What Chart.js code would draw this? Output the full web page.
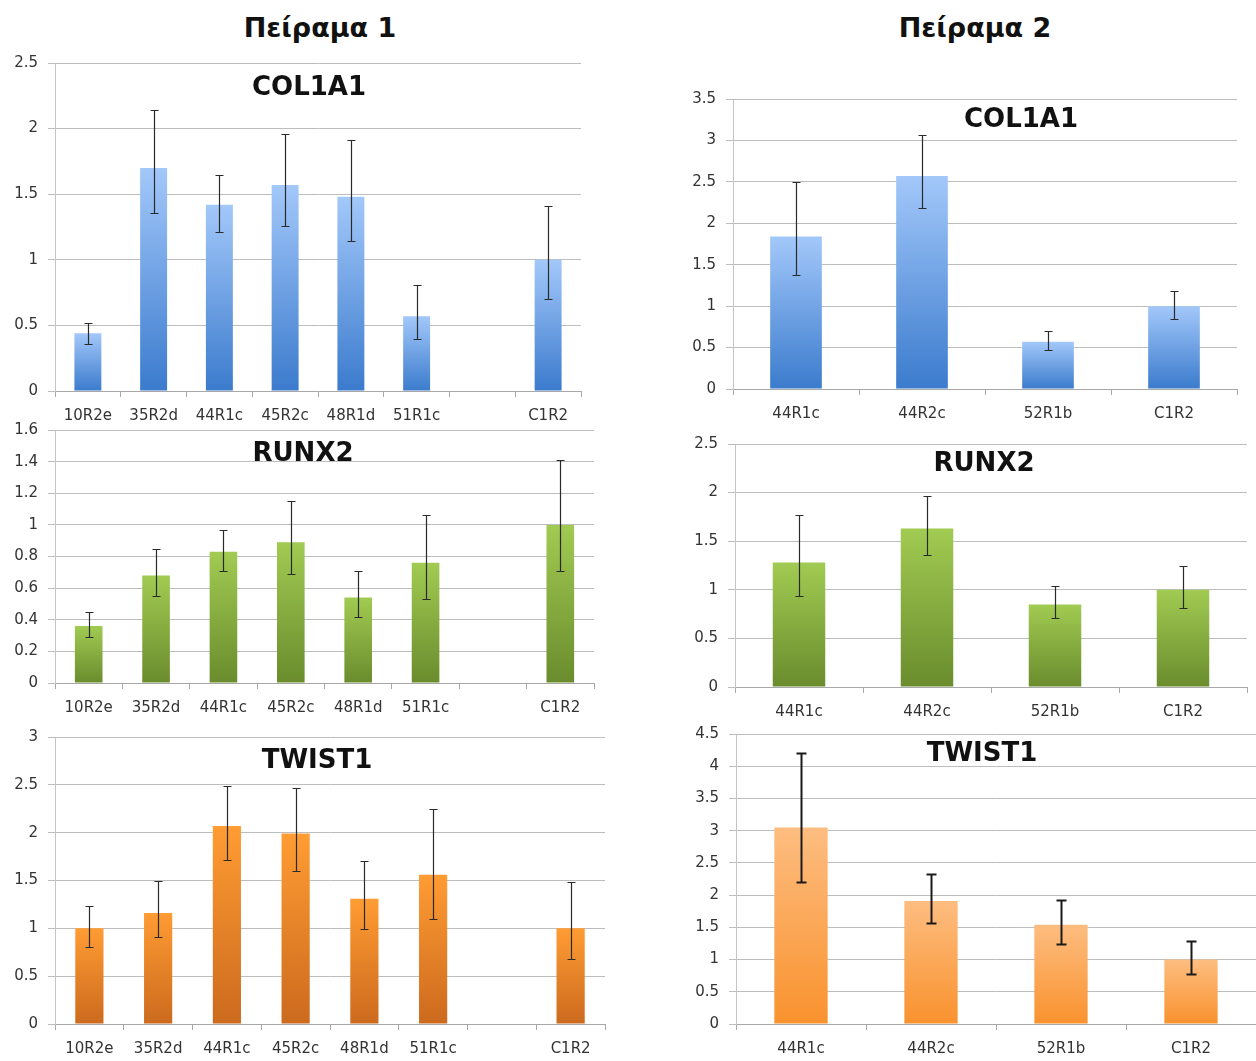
<!DOCTYPE html>
<html>
<head>
<meta charset="utf-8">
<script src="https://cdn.jsdelivr.net/npm/chart.js@4.4.1/dist/chart.umd.min.js"></script>
<style>
  html, body { margin: 0; padding: 0; background: #ffffff; overflow: hidden; }
  body { width: 1256px; height: 1061px; position: relative; }
  .box { position: absolute; }
  .head, .gene {
    position: absolute; transform: translate(-50%, -50%);
    font-family: "DejaVu Sans", sans-serif; font-weight: bold; color: #111;
    white-space: nowrap; pointer-events: none;
  }
  .head { font-size: 27px; }
  .gene { font-size: 26px; }
</style>
</head>
<body>
<div class="head" style="left:320px; top:27px;">Πείραμα 1</div>
<div class="head" style="left:975px; top:27px;">Πείραμα 2</div>

<script>
// Sample labels
const exp1Labels = ['10R2e', '35R2d', '44R1c', '45R2c', '48R1d', '51R1c', '', 'C1R2'];
const exp2Labels = ['44R1c', '44R2c', '52R1b', 'C1R2'];

// Experiment 1 — relative expression with error bar ends
const exp1Col1a1     = [0.44, 1.70, 1.42, 1.57, 1.48, 0.57, null, 1.00];
const exp1Col1a1High = [0.52, 2.14, 1.65, 1.96, 1.91, 0.81, null, 1.41];
const exp1Col1a1Low  = [0.36, 1.36, 1.21, 1.26, 1.14, 0.40, null, 0.70];

const exp1Runx2     = [0.36, 0.68, 0.83, 0.89, 0.54, 0.76, null, 1.00];
const exp1Runx2High = [0.45, 0.85, 0.97, 1.15, 0.71, 1.06, null, 1.41];
const exp1Runx2Low  = [0.29, 0.55, 0.71, 0.69, 0.42, 0.53, null, 0.71];

const exp1Twist1     = [1.00, 1.16, 2.07, 1.99, 1.31, 1.56, null, 1.00];
const exp1Twist1High = [1.23, 1.49, 2.49, 2.47, 1.70, 2.25, null, 1.48];
const exp1Twist1Low  = [0.81, 0.91, 1.71, 1.60, 0.99, 1.10, null, 0.68];

// Experiment 2
const exp2Col1a1     = [1.84, 2.57, 0.57, 1.00];
const exp2Col1a1High = [2.50, 3.06, 0.70, 1.18];
const exp2Col1a1Low  = [1.38, 2.18, 0.47, 0.85];

const exp2Runx2     = [1.28, 1.63, 0.85, 1.00];
const exp2Runx2High = [1.77, 1.97, 1.04, 1.24];
const exp2Runx2Low  = [0.94, 1.36, 0.71, 0.81];

const exp2Twist1     = [3.05, 1.91, 1.54, 1.00];
const exp2Twist1High = [4.21, 2.33, 1.93, 1.29];
const exp2Twist1Low  = [2.21, 1.57, 1.24, 0.77];

// Y axis ranges (max, step)
const yCol1a1Exp1 = [2.5, 0.5];
const yRunx2Exp1  = [1.6, 0.2];
const yTwist1Exp1 = [3, 0.5];
const yCol1a1Exp2 = [3.5, 0.5];
const yRunx2Exp2  = [2.5, 0.5];
const yTwist1Exp2 = [4.5, 0.5];

// Bar gradients (top, bottom)
const BLUE     = ['#a3c8fa', '#3b7bcd'];
const GREEN    = ['#a1cb52', '#6a8c2d'];
const ORANGE   = ['#ff9c33', '#cc6a1e'];
const ORANGE_L = ['#fdbd80', '#f9922e'];

const Y_W = 55;   // y-axis band width
const X_H = 40;   // x-axis band height
const PAD_T = 16; // room above the plot for the top tick label

// Draws vertical error bars with caps from each dataset's errHigh / errLow
const errorBars = {
  id: 'errorBars',
  afterDatasetsDraw(chart, args, opts) {
    const ds = chart.data.datasets[0];
    const meta = chart.getDatasetMeta(0);
    const y = chart.scales.y;
    const ctx = chart.ctx;
    ctx.save();
    ctx.strokeStyle = opts.color;
    ctx.lineWidth = opts.width;
    meta.data.forEach((bar, i) => {
      const hi = ds.errHigh[i], lo = ds.errLow[i];
      if (hi == null || lo == null || !isFinite(bar.x)) return;
      const x = Math.round(bar.x) + 0.5;
      const yH = Math.round(y.getPixelForValue(hi)) + 0.5;
      const yL = Math.round(y.getPixelForValue(lo)) + 0.5;
      ctx.beginPath();
      ctx.moveTo(x, yH); ctx.lineTo(x, yL);
      ctx.moveTo(x - opts.cap, yH); ctx.lineTo(x + opts.cap, yH);
      ctx.moveTo(x - opts.cap, yL); ctx.lineTo(x + opts.cap, yL);
      ctx.stroke();
    });
    ctx.restore();
  }
};

function gradientFill(colors) {
  return (c) => {
    const chart = c.chart;
    if (!chart.chartArea || c.type !== 'data' || c.raw == null) return colors[0];
    const y = chart.scales.y;
    const top = y.getPixelForValue(c.raw);
    const base = y.getPixelForValue(0);
    const g = chart.ctx.createLinearGradient(0, top, 0, base);
    g.addColorStop(0, colors[0]);
    g.addColorStop(1, colors[1]);
    return g;
  };
}

function panel(cfg) {
  const { plot, padR, labels, values, high, low, yRange, colors, title, titlePos, err } = cfg;
  const div = document.createElement('div');
  div.className = 'box';
  const w = plot.right - plot.left + Y_W + padR;
  const h = plot.bottom - plot.top + PAD_T + X_H;
  div.style.left = (plot.left - Y_W) + 'px';
  div.style.top = (plot.top - PAD_T) + 'px';
  div.style.width = w + 'px';
  div.style.height = h + 'px';
  const canvas = document.createElement('canvas');
  canvas.width = w; canvas.height = h;
  canvas.style.width = w + 'px'; canvas.style.height = h + 'px';
  div.appendChild(canvas);
  document.body.appendChild(div);

  const t = document.createElement('div');
  t.className = 'gene';
  t.textContent = title;
  t.style.left = titlePos[0] + 'px';
  t.style.top = titlePos[1] + 'px';
  document.body.appendChild(t);

  const tickFont = { family: 'DejaVu Sans', size: 15 };
  new Chart(canvas, {
    type: 'bar',
    data: {
      labels: labels,
      datasets: [{
        data: values,
        errHigh: high,
        errLow: low,
        backgroundColor: gradientFill(colors),
        borderWidth: 0,
        categoryPercentage: 1.0,
        barPercentage: 0.41
      }]
    },
    options: {
      responsive: false,
      animation: false,
      devicePixelRatio: 1,
      layout: { padding: { top: PAD_T, right: padR, left: 0, bottom: 0 } },
      plugins: {
        legend: { display: false },
        tooltip: { enabled: false },
        errorBars: err
      },
      scales: {
        x: {
          grid: {
            display: true, drawOnChartArea: false, offset: true,
            tickLength: 6, color: '#a8a8a8', lineWidth: 1
          },
          border: { display: true, color: '#a8a8a8', width: 1 },
          ticks: { font: tickFont, color: '#333333', padding: 10, maxRotation: 0, autoSkip: false },
          afterFit: (s) => { s.height = X_H; }
        },
        y: {
          min: 0, max: yRange[0],
          grid: { color: '#bdbdbd', lineWidth: 1, tickLength: 7, drawTicks: true },
          border: { display: true, color: '#c4c4c4', width: 1 },
          ticks: {
            stepSize: yRange[1], font: tickFont, color: '#333333', padding: 10,
            callback: (v) => String(Math.round(v * 10) / 10)
          },
          afterFit: (s) => { s.width = Y_W; }
        }
      }
    },
    plugins: [errorBars]
  });
}

const errThin = { color: '#2a2a2a', width: 1.2, cap: 4 };
const errBold = { color: '#1a1a1a', width: 2, cap: 5 };

panel({ plot: { left: 55, right: 581, top: 60, bottom: 391 }, padR: 10,
  labels: exp1Labels, values: exp1Col1a1, high: exp1Col1a1High, low: exp1Col1a1Low,
  yRange: yCol1a1Exp1, colors: BLUE, title: 'COL1A1', titlePos: [309, 86], err: errThin });

panel({ plot: { left: 55, right: 594, top: 427, bottom: 683 }, padR: 6,
  labels: exp1Labels, values: exp1Runx2, high: exp1Runx2High, low: exp1Runx2Low,
  yRange: yRunx2Exp1, colors: GREEN, title: 'RUNX2', titlePos: [303, 452], err: errThin });

panel({ plot: { left: 55, right: 605, top: 734, bottom: 1024 }, padR: 6,
  labels: exp1Labels, values: exp1Twist1, high: exp1Twist1High, low: exp1Twist1Low,
  yRange: yTwist1Exp1, colors: ORANGE, title: 'TWIST1', titlePos: [317, 759], err: errThin });

panel({ plot: { left: 733, right: 1237, top: 96, bottom: 389 }, padR: 10,
  labels: exp2Labels, values: exp2Col1a1, high: exp2Col1a1High, low: exp2Col1a1Low,
  yRange: yCol1a1Exp2, colors: BLUE, title: 'COL1A1', titlePos: [1021, 118], err: errThin });

panel({ plot: { left: 735, right: 1247, top: 441, bottom: 687 }, padR: 8,
  labels: exp2Labels, values: exp2Runx2, high: exp2Runx2High, low: exp2Runx2Low,
  yRange: yRunx2Exp2, colors: GREEN, title: 'RUNX2', titlePos: [984, 462], err: errThin });

panel({ plot: { left: 736, right: 1256, top: 731, bottom: 1024 }, padR: 0,
  labels: exp2Labels, values: exp2Twist1, high: exp2Twist1High, low: exp2Twist1Low,
  yRange: yTwist1Exp2, colors: ORANGE_L, title: 'TWIST1', titlePos: [982, 752], err: errBold });
</script>
</body>
</html>
